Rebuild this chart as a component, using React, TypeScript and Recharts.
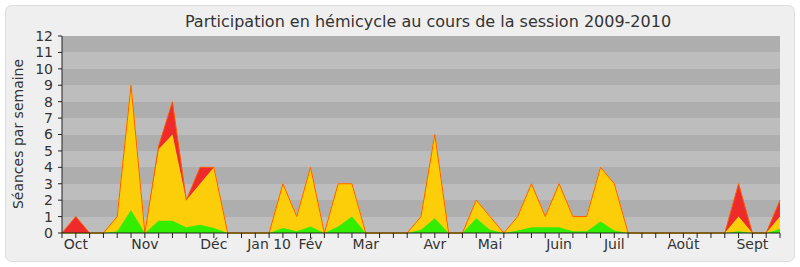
import React from 'react';
import { AreaChart, Area, XAxis, YAxis, CartesianGrid } from 'recharts';

const greenValues = [0,0,0,0,0.1,1.4,0,0.75,0.75,0.35,0.5,0.3,0,0,0,0,0.3,0.1,0.4,0,0.4,1,0,0,0,0,0.2,0.9,0,0,0.9,0.2,0,0.15,0.35,0.35,0.35,0.1,0.1,0.7,0.15,0,0,0,0,0,0,0,0,0.1,0,0,0.25];
const yellowValues = [0,0,0,0,0.9,7.6,0,4.35,5.25,1.65,2.5,3.7,0,0,0,0,2.7,0.9,3.6,0,2.6,2,0,0,0,0,0.8,5.1,0,0,1.1,0.8,0,0.85,2.65,0.65,2.65,0.9,0.9,3.3,2.85,0,0,0,0,0,0,0,0,0.9,0,0,0.75];
const redValues = [0,1,0,0,0,0,0,0.2,2,0,1,0,0,0,0,0,0,0,0,0,0,0,0,0,0,0,0,0,0,0,0,0,0,0,0,0,0,0,0,0,0,0,0,0,0,0,0,0,0,2,0,0,1];

const monthWeeks = [1, 6, 11, 15, 18, 22, 27, 31, 36, 40, 45, 50];
const monthLabels = ['Oct', 'Nov', 'Déc', 'Jan 10', 'Fév', 'Mar', 'Avr', 'Mai', 'Juin', 'Juil', 'Août', 'Sept'];
const yTicks = [0,1,2,3,4,5,6,7,8,9,10,11,12];

const data = greenValues.map((g, i) => ({ w: i, green: g, yellow: yellowValues[i], red: redValues[i] }));
const weekTicks = data.map(d => d.w);

const FONT = 'DejaVu Sans';

const fmtX = (v: number) => {
  const k = monthWeeks.indexOf(v);
  return k >= 0 ? monthLabels[k] : '';
};

export default function App() {
  return (
    <div style={{ position: 'absolute', left: 0, top: 0, width: 800, height: 267, background: '#ffffff', fontFamily: FONT }}>
      <svg width={800} height={267} style={{ position: 'absolute', left: 0, top: 0 }}>
        <rect x={5.5} y={5.5} width={789} height={256} rx={6} ry={6} fill="#efefef" stroke="#dcdcdc" />
        <text x={428} y={27} textAnchor="middle" fontFamily={FONT} fontSize={16} fill="#333">
          Participation en hémicycle au cours de la session 2009-2010
        </text>
        <text x={0} y={0} transform="translate(23,134) rotate(-90)" textAnchor="middle" fontFamily={FONT} fontSize={14} fill="#333">
          Séances par semaine
        </text>
      </svg>
      <div style={{ position: 'absolute', left: 0, top: 0 }}>
        <AreaChart width={800} height={267} data={data} margin={{ top: 36, right: 20, bottom: 0, left: 0 }}>
          <CartesianGrid horizontal vertical={false} stroke="none" horizontalFill={['#aeaeae', '#bdbdbd']} />
          <XAxis
            xAxisId="top"
            orientation="top"
            type="number"
            dataKey="w"
            domain={[0, 52]}
            ticks={weekTicks}
            interval={0}
            height={0}
            tickSize={2}
            axisLine={false}
            tick={false}
            tickLine={{ stroke: '#333', strokeDasharray: '1 1' }}
          />
          <XAxis
            type="number"
            dataKey="w"
            domain={[0, 52]}
            ticks={weekTicks}
            interval={0}
            height={34}
            tickSize={5}
            tickMargin={1}
            tickFormatter={fmtX}
            axisLine={{ stroke: '#222' }}
            tickLine={{ stroke: '#222' }}
            tick={{ fontFamily: FONT, fontSize: 14, fill: '#333' }}
          />
          <YAxis
            type="number"
            domain={[0, 12]}
            ticks={yTicks}
            interval={0}
            width={62}
            tickSize={4}
            tickMargin={5}
            axisLine={{ stroke: '#222' }}
            tickLine={{ stroke: '#222' }}
            tick={{ fontFamily: FONT, fontSize: 14, fill: '#333' }}
          />
          <Area type="linear" dataKey="green" stackId="s" fill="#33ee00" fillOpacity={1} stroke="#33ee00" strokeWidth={1} isAnimationActive={false} dot={false} activeDot={false} />
          <Area type="linear" dataKey="yellow" stackId="s" fill="#fcce0a" fillOpacity={1} stroke="#ffe400" strokeWidth={1} isAnimationActive={false} dot={false} activeDot={false} />
          <Area type="linear" dataKey="red" stackId="s" fill="#ee2a2a" fillOpacity={1} stroke="#ff5a00" strokeWidth={1} isAnimationActive={false} dot={false} activeDot={false} />
        </AreaChart>
      </div>
    </div>
  );
}
